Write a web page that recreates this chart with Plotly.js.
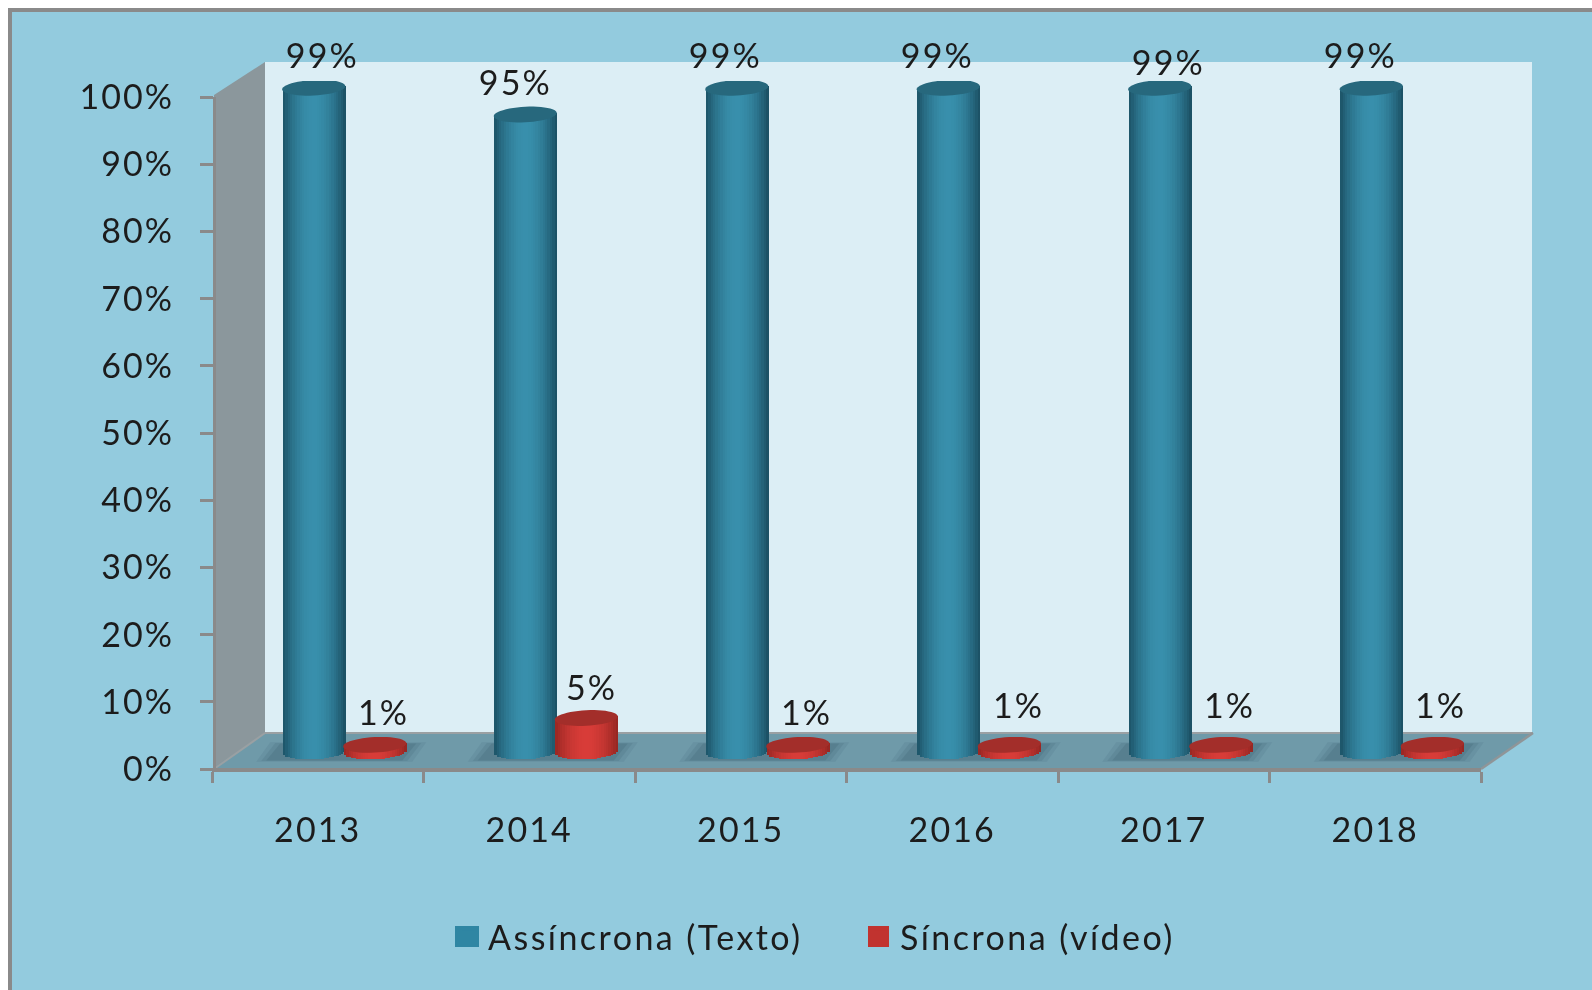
<!DOCTYPE html>
<html><head><meta charset="utf-8">
<script src="https://cdn.plot.ly/plotly-3.0.1.min.js"></script>
<style>html,body{margin:0;padding:0;background:#fff;overflow:hidden}#plot{width:1592px;height:990px;filter:blur(0.55px)}
#plot svg text{letter-spacing:2.1px}
#plot svg text.legendtext{letter-spacing:2.45px}</style>
</head><body><div id="plot"></div>
<script>
const years = ['2013','2014','2015','2016','2017','2018'];
const asyncName = 'Assíncrona (Texto)';
const syncName = 'Síncrona (vídeo)';
const asyncValues = [99,95,99,99,99,99];
const syncValues = [1,5,1,1,1,1];
const asyncLabelShift = [[9,33],[-10,33],[-11,33],[-11,33],[9,26],[-11,33]];
const syncLabelShift = [[9,33],[5,32],[9,33],[9,40],[9,40],[8,40]];

const W=1592,H=990;
const px=v=>v/W, py=v=>1-v/H;
const unitX=1269/6, unitY=6.72;
const frontL=212,frontR=1481,front0=769,front100=97;
const midDX=26.5,midDY=17.5;
const halfW=31.5/unitX, groupOff=30.5/unitX, capB=7.8/unitY, tilt=1.6/unitY;
const poly=(pts,fill,extra={})=>Object.assign({type:'path',xref:'paper',yref:'paper',layer:'below',
  path:'M'+pts.map(p=>px(p[0])+','+py(p[1])).join('L')+'Z',fillcolor:fill,line:{width:0}},extra);

function lerp(a,b,t){return a.map((c,i)=>Math.round(c+(b[i]-c)*t));}
function shade(u,dark,light){
  const t=Math.pow(Math.min(1,Math.abs(u+0.02)),1.9);
  const c=lerp(light,dark,t);return `rgb(${c[0]},${c[1]},${c[2]})`;
}
function strips(values,off,dark,light){
  const n=26,xs=[],ys=[],bs=[],ws=[],cs=[];
  values.forEach((v,i)=>{
    for(let k=0;k<n;k++){
      const u=(k+.5)/n*2-1;
      const base=-capB*Math.sqrt(1-u*u)+tilt*u;
      xs.push(i+off+u*halfW);ws.push(2*halfW/n*1.06);
      bs.push(base);ys.push(v+tilt*u-base);cs.push(shade(u,dark,light));
    }
  });
  return {type:'bar',x:xs,y:ys,base:bs,width:ws,xaxis:'x2',yaxis:'y2',showlegend:false,hoverinfo:'skip',
    marker:{color:cs,line:{width:0}}};
}
function capShape(cx,cy,fill){
  const pts=[];
  for(let a=0;a<48;a++){
    const t=a/48*2*Math.PI,u=Math.cos(t);
    pts.push([cx+u*halfW,cy+capB*Math.sin(t)+tilt*u]);
  }
  return {type:'path',xref:'x2',yref:'y2',layer:'above',fillcolor:fill,line:{width:0},
    path:'M'+pts.map(p=>p[0]+','+p[1]).join('L')+'Z'};
}
function shadowShape(i,grow,op){
  const dx=v=>v/unitX, dy=v=>v/unitY;
  const l=i-dx(78)-dx(grow), r=i+dx(58)+dx(grow), t=dy(8)+dy(grow*0.12), b=dy(-9)-dy(grow*0.12);
  const skew=dx(14);
  return {type:'path',xref:'x2',yref:'y2',layer:'below',fillcolor:'#3f6475',opacity:op,line:{width:0},
    path:`M${l},${b}L${r},${b}L${r+skew},${t}L${l+skew},${t}Z`};
}

const shapes=[
  poly([[10,10],[W+5,10],[W+5,H+5],[10,H+5]],'#93cbde',{line:{color:'#8a8a8a',width:4}}),
  poly([[265,62],[1532,62],[1532,733],[265,733]],'#dceef5'),
  poly([[frontL+2,front100-2],[265,62],[265,733],[frontL+2,front0]],'#8b979c'),
  poly([[frontL,front0],[265,733],[1532,733],[frontR,front0]],'#6f9aa9'),
  {type:'line',xref:'paper',yref:'paper',layer:'below',x0:px(265),x1:px(1533),y0:py(733),y1:py(733),line:{color:'#9aa0a3',width:2}},
  {type:'line',xref:'paper',yref:'paper',layer:'below',x0:px(frontL+2),x1:px(265),y0:py(front0),y1:py(733),line:{color:'#9aa0a3',width:2}},
  {type:'line',xref:'paper',yref:'paper',layer:'below',x0:px(frontR),x1:px(1533),y0:py(front0),y1:py(733),line:{color:'#8f9598',width:2.5}},
  poly([[455,926],[479,926],[479,947],[455,947]],'#2f86a3'),
  poly([[868,926],[889,926],[889,947],[868,947]],'#c1332f')
];
years.forEach((y,i)=>{
  shapes.push(shadowShape(i,10,0.14),shadowShape(i,5,0.18),shadowShape(i,0,0.26));
  shapes.push(capShape(i-groupOff,asyncValues[i],'#27687d'));
  shapes.push(capShape(i+groupOff,syncValues[i],'#a32e2a'));
});
const annotations=[];
const label=(x,v,s)=>annotations.push({xref:'x2',yref:'y2',x:x,y:v,text:v+'%',showarrow:false,xshift:s[0],yshift:s[1],
  font:{family:'Lato, "Open Sans", sans-serif',size:34,color:'#1c1c1c'}});
years.forEach((y,i)=>{label(i-groupOff,asyncValues[i],asyncLabelShift[i]);label(i+groupOff,syncValues[i],syncLabelShift[i]);});

const traces=[
 {type:'scatter',x:years,y:years.map(()=>0),xaxis:'x',yaxis:'y',mode:'none',showlegend:false,hoverinfo:'skip'},
 {type:'bar',name:asyncName,x:years.map((y,i)=>i-groupOff),y:asyncValues,width:years.map(()=>2*halfW*0.96),xaxis:'x2',yaxis:'y2',marker:{color:'#2f86a3'}},
 {type:'bar',name:syncName,x:years.map((y,i)=>i+groupOff),y:syncValues,width:years.map(()=>2*halfW*0.96),xaxis:'x2',yaxis:'y2',marker:{color:'#c1332f'}},
 strips(asyncValues,-groupOff,[27,80,99],[56,143,172]),
 strips(syncValues,groupOff,[150,38,34],[216,60,56])
];
const layout={
 width:W,height:H,margin:{l:0,r:0,t:0,b:0},paper_bgcolor:'#ffffff',plot_bgcolor:'rgba(0,0,0,0)',
 barmode:'overlay',bargap:0,shapes,annotations,
 font:{family:'Lato, "Open Sans", sans-serif',color:'#1c1c1c',size:34},
 xaxis:{type:'category',domain:[px(frontL),px(frontR)],anchor:'free',position:py(769.5),range:[-0.5,5.5],tickson:'boundaries',ticks:'outside',ticklen:11,tickwidth:3,tickcolor:'#8a8a8a',
   showline:true,linecolor:'#8a8a8a',linewidth:4,showgrid:false,zeroline:false,ticklabelstandoff:30,tickfont:{size:34}},
 yaxis:{domain:[py(front0),py(front100)],anchor:'free',position:px(214),range:[0,100],dtick:10,ticksuffix:'%',ticks:'outside',ticklen:13,tickwidth:3,tickcolor:'#8a8a8a',
   showline:true,linecolor:'#8a8a8a',linewidth:3,showgrid:false,zeroline:false,ticklabelstandoff:19,tickfont:{size:34}},
 xaxis2:{domain:[px(frontL+midDX),px(frontR+midDX)],anchor:'y2',range:[-0.5,5.5],visible:false,fixedrange:true},
 yaxis2:{domain:[py(front0-midDY+3*unitY),py(front100-midDY+1.5)],anchor:'x2',range:[-3,100],visible:false,fixedrange:true},
 showlegend:true,
 legend:{orientation:'h',x:px(448),xanchor:'left',y:py(937),yanchor:'middle',bgcolor:'rgba(0,0,0,0)',borderwidth:0,font:{size:34,color:'#1c1c1c'},entrywidth:367,entrywidthmode:'pixels',traceorder:'normal'}
};
Plotly.newPlot('plot',traces,layout,{displayModeBar:false,responsive:false});
</script></body></html>
